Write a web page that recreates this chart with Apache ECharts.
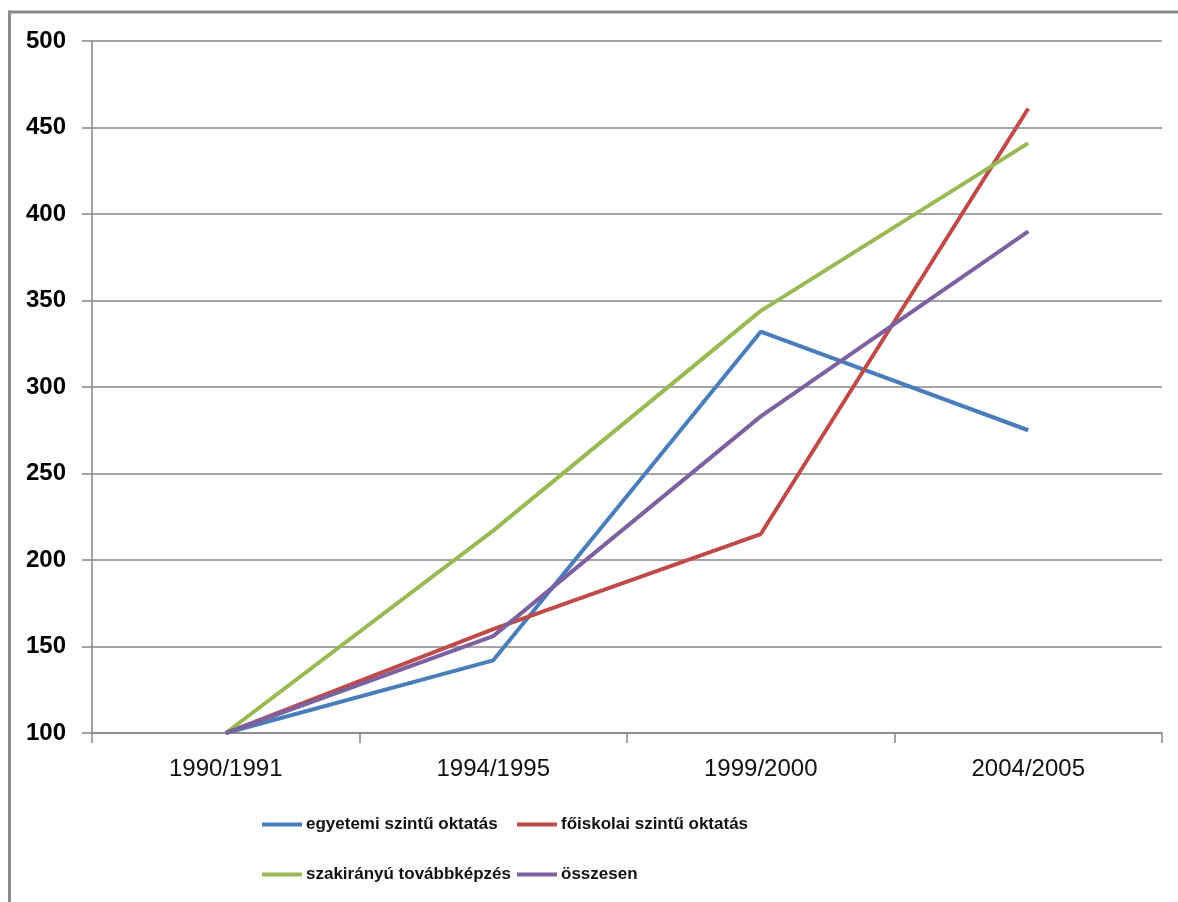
<!DOCTYPE html>
<html>
<head>
<meta charset="utf-8">
<script src="https://cdn.jsdelivr.net/npm/echarts@6/dist/echarts.min.js"></script>
<style>
html,body{margin:0;padding:0;background:#fff;}
#chart{width:1178px;height:902px;}
</style>
</head>
<body>
<div id="chart"></div>
<script>
var categories = ['1990/1991', '1994/1995', '1999/2000', '2004/2005'];
var seriesNames = ['egyetemi szintű oktatás', 'főiskolai szintű oktatás', 'szakirányú továbbképzés', 'összesen'];
var egyetemi = [100, 142, 332, 275];
var foiskolai = [100, 160, 215, 461];
var szakiranyu = [100, 217, 344, 441];
var osszesen = [100, 156, 283, 390];
var yTicks = {min: 100, max: 500, interval: 50};

var colors = ['#4A7EBB', '#BE4B48', '#98B954', '#7D60A0'];
var values = [egyetemi, foiskolai, szakiranyu, osszesen];
var fontFam = '"Liberation Sans", Arial, sans-serif';

var chart = echarts.init(document.getElementById('chart'), null, {renderer: 'canvas'});

var legendPos = [
  {left: 262, top: 816},
  {left: 517, top: 816},
  {left: 262, top: 866},
  {left: 517, top: 866}
];

var option = {
  animation: false,
  backgroundColor: '#ffffff',
  color: colors,
  graphic: [{
    type: 'rect',
    shape: {x: 9.5, y: 12, width: 1300, height: 1000},
    style: {fill: 'none', stroke: '#8a8a8a', lineWidth: 3},
    z: 0
  }],
  grid: {left: 92, right: 16, top: 41, bottom: 169, containLabel: false},
  legend: seriesNames.map(function (n, i) {
    return {
      data: [n],
      left: legendPos[i].left,
      top: legendPos[i].top,
      icon: 'rect',
      itemWidth: 40,
      itemHeight: 4,
      itemGap: 0,
      padding: 0,
      textStyle: {fontFamily: fontFam, fontSize: 17, fontWeight: 'bold', color: '#111', padding: [0, 0, 0, -1]}
    };
  }),
  xAxis: {
    type: 'category',
    data: categories,
    boundaryGap: true,
    axisLine: {show: true, lineStyle: {color: '#868686', width: 1.5}},
    axisTick: {show: true, length: 10, alignWithLabel: false, lineStyle: {color: '#868686', width: 1.5}},
    axisLabel: {fontFamily: fontFam, fontSize: 24, color: '#111', margin: 24},
    splitLine: {show: false}
  },
  yAxis: {
    type: 'value',
    min: yTicks.min,
    max: yTicks.max,
    interval: yTicks.interval,
    axisLine: {show: true, lineStyle: {color: '#868686', width: 1.5}},
    axisTick: {show: true, length: 10, inside: false, lineStyle: {color: '#868686', width: 1.5}},
    axisLabel: {fontFamily: fontFam, fontSize: 24, fontWeight: 'bold', color: '#000', margin: 26},
    splitLine: {show: true, lineStyle: {color: '#868686', width: 1.5}}
  },
  series: seriesNames.map(function (n, i) {
    return {
      name: n,
      type: 'line',
      data: values[i],
      showSymbol: false,
      symbol: 'none',
      lineStyle: {width: 4, color: colors[i]},
      itemStyle: {color: colors[i]}
    };
  })
};
chart.setOption(option);
</script>
</body>
</html>
